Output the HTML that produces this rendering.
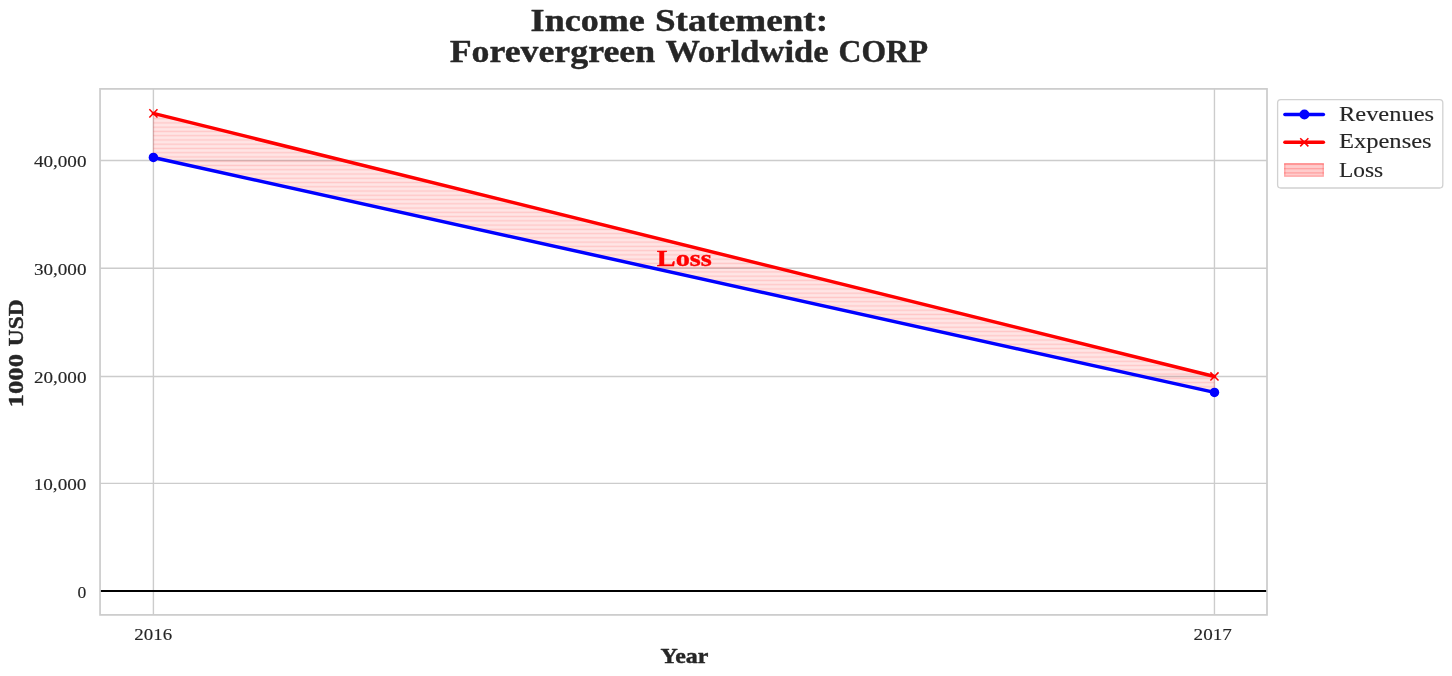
<!DOCTYPE html>
<html lang="en">
<head>
<meta charset="utf-8">
<title>Income Statement: Forevergreen Worldwide CORP</title>
<style>
html,body{margin:0;padding:0;background:#ffffff;}
body{width:1452px;height:676px;overflow:hidden;font-family:"Liberation Serif",serif;}
svg{display:block;position:absolute;left:0;top:0;will-change:transform;opacity:0.999;}
svg text{font-family:"Liberation Serif",serif;white-space:pre;stroke-linejoin:round;}
svg text.b{stroke:#262626;stroke-width:0.4px;}
svg text.r{stroke:#262626;stroke-width:0.12px;}
svg text.lossb{stroke:#ff0000;stroke-width:0.4px;}
</style>
</head>
<body>
<svg width="1452" height="676" viewBox="0 0 1452 676">
<defs>
<pattern id="hatch" patternUnits="userSpaceOnUse" x="0" y="116.55" width="100" height="4.257">
<rect x="0" y="1.4" width="100" height="1.39" fill="#ff0000" fill-opacity="0.13"/>
</pattern>
<clipPath id="axclip"><rect x="100.05" y="88.9" width="1166.95" height="526.0"/></clipPath>
</defs>
<rect x="0" y="0" width="1452" height="676" fill="#ffffff"/>

<g stroke="#cccccc" stroke-width="1.39" fill="none">
<line x1="153.4" y1="88.9" x2="153.4" y2="614.9"/>
<line x1="1214.45" y1="88.9" x2="1214.45" y2="614.9"/>
<line x1="100.05" y1="160.5" x2="1267.0" y2="160.5"/>
<line x1="100.05" y1="268.25" x2="1267.0" y2="268.25"/>
<line x1="100.05" y1="376.45" x2="1267.0" y2="376.45"/>
<line x1="100.05" y1="483.35" x2="1267.0" y2="483.35"/>
<line x1="100.05" y1="590.95" x2="1267.0" y2="590.95"/>
</g>
<polygon points="153.4,113.4 1214.45,376.45 1214.45,392.43 153.4,157.46" fill="#ff0000" fill-opacity="0.1"/>
<polygon points="153.4,113.4 1214.45,376.45 1214.45,392.43 153.4,157.46" fill="url(#hatch)" stroke="#ff0000" stroke-opacity="0.1" stroke-width="1.39"/>
<line x1="100.05" y1="590.95" x2="1267.0" y2="590.95" stroke="#000000" stroke-width="2.08"/>
<line x1="153.4" y1="157.46" x2="1214.45" y2="392.43" stroke="#0000ff" stroke-width="3.47" stroke-linecap="round"/>
<circle cx="153.4" cy="157.46" r="4.75" fill="#0000ff"/>
<circle cx="1214.45" cy="392.43" r="4.75" fill="#0000ff"/>
<line x1="153.4" y1="113.4" x2="1214.45" y2="376.45" stroke="#ff0000" stroke-width="3.47" stroke-linecap="round"/>
<path d="M149.85 109.85000000000001L156.95000000000002 116.95M149.85 116.95L156.95000000000002 109.85000000000001" stroke="#ff0000" stroke-width="1.5" stroke-linecap="square" fill="none"/>
<path d="M1210.9 372.9L1218.0 380.0M1210.9 380.0L1218.0 372.9" stroke="#ff0000" stroke-width="1.5" stroke-linecap="square" fill="none"/>
<rect x="100.05" y="88.9" width="1166.95" height="526.0" fill="none" stroke="#cccccc" stroke-width="1.74"/>
<rect x="1277.6" y="99.6" width="165.20000000000005" height="88.4" rx="3.2" ry="3.2" fill="#ffffff" fill-opacity="0.8" stroke="#cccccc" stroke-opacity="0.9" stroke-width="1.3"/>
<line x1="1284.9" y1="114.45" x2="1323.4" y2="114.45" stroke="#0000ff" stroke-width="3.47" stroke-linecap="round"/>
<circle cx="1304.4" cy="114.45" r="4.95" fill="#0000ff"/>
<line x1="1284.9" y1="142.3" x2="1323.4" y2="142.3" stroke="#ff0000" stroke-width="3.47" stroke-linecap="round"/>
<path d="M1300.75 138.75L1307.85 145.85000000000002M1300.75 145.85000000000002L1307.85 138.75" stroke="#ff0000" stroke-width="1.5" stroke-linecap="square" fill="none"/>
<rect x="1284.1" y="163.0" width="39.8" height="13.8" fill="#ff0000" fill-opacity="0.2"/>
<rect x="1284.8" y="163.7" width="38.4" height="12.4" fill="none" stroke="#ff0000" stroke-opacity="0.2" stroke-width="1.39"/>
<rect x="1284.1" y="163.70000000000002" width="39.8" height="1.39" fill="#ff0000" fill-opacity="0.2"/>
<rect x="1284.1" y="167.95000000000002" width="39.8" height="1.39" fill="#ff0000" fill-opacity="0.2"/>
<rect x="1284.1" y="172.20000000000002" width="39.8" height="1.39" fill="#ff0000" fill-opacity="0.2"/>
<text y="30.8" class="b" font-size="31" fill="#262626" font-weight="bold"><tspan x="530.6" textLength="114.2" lengthAdjust="spacingAndGlyphs">Income</tspan> <tspan x="654.9" textLength="173.2" lengthAdjust="spacingAndGlyphs">Statement:</tspan></text>
<text y="61.8" class="b" font-size="31" fill="#262626" font-weight="bold"><tspan x="449.7" textLength="205.4" lengthAdjust="spacingAndGlyphs">Forevergreen</tspan> <tspan x="665.5" textLength="163.0" lengthAdjust="spacingAndGlyphs">Worldwide</tspan> <tspan x="838.6" textLength="89.6" lengthAdjust="spacingAndGlyphs">CORP</tspan></text>
<text x="33.9" y="167.0" class="r" font-size="16.4" fill="#262626" textLength="52.6" lengthAdjust="spacingAndGlyphs">40,000</text>
<text x="33.9" y="274.75" class="r" font-size="16.4" fill="#262626" textLength="52.6" lengthAdjust="spacingAndGlyphs">30,000</text>
<text x="33.9" y="382.95" class="r" font-size="16.4" fill="#262626" textLength="52.6" lengthAdjust="spacingAndGlyphs">20,000</text>
<text x="33.7" y="489.85" class="r" font-size="16.4" fill="#262626" textLength="52.7" lengthAdjust="spacingAndGlyphs">10,000</text>
<text x="77.5" y="597.5" class="r" font-size="16.4" fill="#262626" textLength="8.8" lengthAdjust="spacingAndGlyphs">0</text>
<text x="134.3" y="639.9" class="r" font-size="16.4" fill="#262626" textLength="37.8" lengthAdjust="spacingAndGlyphs">2016</text>
<text x="1193.6" y="639.9" class="r" font-size="16.4" fill="#262626" textLength="38.2" lengthAdjust="spacingAndGlyphs">2017</text>
<text x="660.6" y="662.9" class="b" font-size="21.5" fill="#262626" font-weight="bold" textLength="47.8" lengthAdjust="spacingAndGlyphs">Year</text>
<text transform="translate(23.2 0) rotate(-90)" y="0" class="b" font-size="21.5" fill="#262626" font-weight="bold"><tspan x="-407.4" textLength="53.4" lengthAdjust="spacingAndGlyphs">1000</tspan> <tspan x="-346.3" textLength="47.0" lengthAdjust="spacingAndGlyphs">USD</tspan></text>
<text x="656.8" y="266.0" class="lossb" font-size="23.9" fill="#ff0000" font-weight="bold" textLength="55.0" lengthAdjust="spacingAndGlyphs">Loss</text>
<text x="1339.0" y="120.65" class="r" font-size="20.5" fill="#262626" textLength="95" lengthAdjust="spacingAndGlyphs">Revenues</text>
<text x="1339.0" y="148.3" class="r" font-size="20.5" fill="#262626" textLength="92.6" lengthAdjust="spacingAndGlyphs">Expenses</text>
<text x="1339.0" y="176.8" class="r" font-size="20.5" fill="#262626" textLength="44.2" lengthAdjust="spacingAndGlyphs">Loss</text>
</svg>
</body>
</html>
